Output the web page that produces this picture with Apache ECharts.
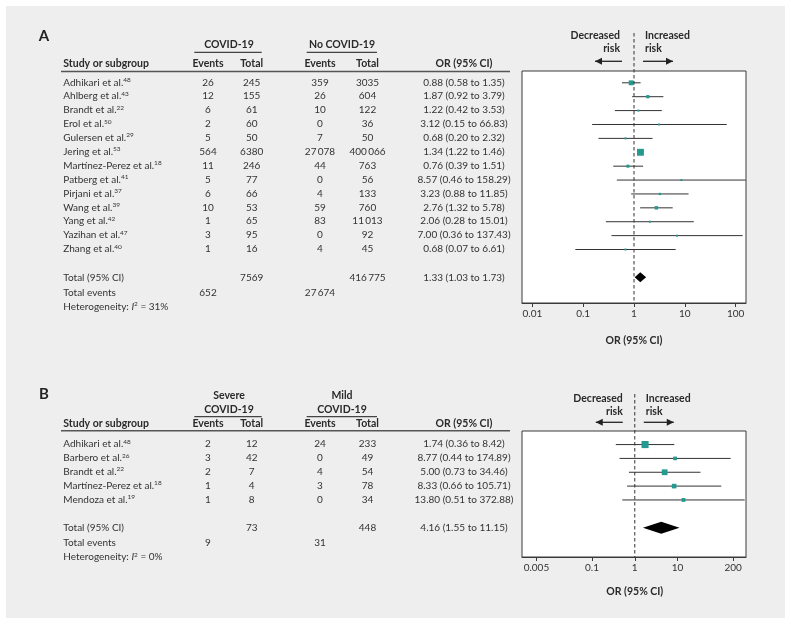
<!DOCTYPE html>
<html><head><meta charset="utf-8">
<script src="https://cdn.jsdelivr.net/npm/echarts@6/dist/echarts.min.js"></script>
<style>html,body{margin:0;padding:0;background:#fff}#c{width:791px;height:624px}</style>
</head><body><div id="c"></div>
<script>
// ---------- DATA: Panel A ----------
const studiesA = ['Adhikari et al.', 'Ahlberg et al.', 'Brandt et al.', 'Erol et al.', 'Gulersen et al.', 'Jering et al.', 'Martínez-Perez et al.', 'Patberg et al.', 'Pirjani et al.', 'Wang et al.', 'Yang et al.', 'Yazihan et al.', 'Zhang et al.'];
const refsA = ['48', '43', '22', '50', '29', '53', '18', '41', '37', '39', '42', '47', '40'];
const covEventsA = [26, 12, 6, 2, 5, 564, 11, 5, 6, 10, 1, 3, 1];
const covTotalA = [245, 155, 61, 60, 50, 6380, 246, 77, 66, 53, 65, 95, 16];
const noEventsA = [359, 26, 10, 0, 7, 27078, 44, 0, 4, 59, 83, 0, 4];
const noTotalA = [3035, 604, 122, 36, 50, 400066, 763, 56, 133, 760, 11013, 92, 45];
const orA = [0.88, 1.87, 1.22, 3.12, 0.68, 1.34, 0.76, 8.57, 3.23, 2.76, 2.06, 7.00, 0.68];
const loA = [0.58, 0.92, 0.42, 0.15, 0.20, 1.22, 0.39, 0.46, 0.88, 1.32, 0.28, 0.36, 0.07];
const hiA = [1.35, 3.79, 3.53, 66.83, 2.32, 1.46, 1.51, 158.29, 11.85, 5.78, 15.01, 137.43, 6.61];
const weightA = [18, 8, 3, 1, 2, 36, 7, 1, 4, 9, 2, 1, 2]; // estimated % weights (marker size)
const totalA = { covTotal: 7569, noTotal: 416775, or: 1.33, lo: 1.03, hi: 1.73, covEvents: 652, noEvents: 27674, i2: 31 };
const ticksA = [0.01, 0.1, 1, 10, 100];

// ---------- DATA: Panel B ----------
const studiesB = ['Adhikari et al.', 'Barbero et al.', 'Brandt et al.', 'Martínez-Perez et al.', 'Mendoza et al.'];
const refsB = ['48', '26', '22', '18', '19'];
const sevEventsB = [2, 3, 2, 1, 1];
const sevTotalB = [12, 42, 7, 4, 8];
const mildEventsB = [24, 0, 4, 3, 0];
const mildTotalB = [233, 49, 54, 78, 34];
const orB = [1.74, 8.77, 5.00, 8.33, 13.80];
const loB = [0.36, 0.44, 0.73, 0.66, 0.51];
const hiB = [8.42, 174.89, 34.46, 105.71, 372.88];
const weightB = [38, 10, 25, 16, 11];
const totalB = { covTotal: 73, noTotal: 448, or: 4.16, lo: 1.55, hi: 11.15, covEvents: 9, noEvents: 31, i2: 0 };
const ticksB = [0.005, 0.1, 1, 10, 200];

// ---------- STYLE ----------
const FONT = 'Lato';
const TXT = '#333';
const TEAL = '#23998f';
const FS = 10;
const FSB = 10.5;

const fmtNum = n => n >= 10000 ? String(n).replace(/\B(?=(\d{3})+(?!\d))/g, '\u2009') : String(n);
const fmtOR = (o, l, h) => `${o.toFixed(2)} (${l.toFixed(2)} to ${h.toFixed(2)})`;
const fmtTick = v => String(parseFloat(Number(v).toPrecision(6)));

function studyRows(or, lo, hi, w) {
  return or.map((v, i) => [v, lo[i], hi[i], i, w[i]]);
}

function renderStudy(params, api) {
  const y = api.value(3);
  const pc = api.coord([api.value(0), y]);
  const p0 = api.coord([api.value(1), y]);
  const p1 = api.coord([api.value(2), y]);
  const s = Math.max(2, 1.15 * Math.sqrt(api.value(4)));
  return {
    type: 'group',
    children: [
      { type: 'line', shape: { x1: p0[0], y1: p0[1], x2: p1[0], y2: p1[1] }, style: { stroke: '#333', lineWidth: 1 } },
      { type: 'rect', shape: { x: pc[0] - s / 2, y: pc[1] - s / 2, width: s, height: s }, style: { fill: TEAL } }
    ]
  };
}
function makeDiamond(half) {
  return function (params, api) {
    const y = api.value(3);
    const pc = api.coord([api.value(0), y]);
    const p0 = api.coord([api.value(1), y]);
    const p1 = api.coord([api.value(2), y]);
    return { type: 'polygon', shape: { points: [[p0[0], pc[1]], [pc[0], pc[1] - half], [p1[0], pc[1]], [pc[0], pc[1] + half]] }, style: { fill: '#000' } };
  };
}

function xAxisCfg(grid, min, max, ticks) {
  return {
    type: 'log', logBase: 10, gridIndex: grid, min: min, max: max,
    axisLine: { show: true, onZero: false, lineStyle: { color: '#3a3a3a', width: 1 } },
    axisTick: { show: true, length: 4, customValues: ticks, lineStyle: { color: '#3a3a3a' } },
    axisLabel: { customValues: ticks, margin: 6, fontSize: FS, fontFamily: FONT, color: TXT, formatter: fmtTick },
    splitLine: { show: false }, minorTick: { show: false }
  };
}

const chart = echarts.init(document.getElementById('c'), null, { renderer: 'canvas' });
chart.setOption({
  backgroundColor: '#fff',
  animation: false,
  grid: [
    { left: 522, width: 224, top: 71, height: 232, show: true, backgroundColor: '#fff', borderColor: '#3a3a3a', borderWidth: 1 },
    { left: 522, width: 224, top: 431, height: 126, show: true, backgroundColor: '#fff', borderColor: '#3a3a3a', borderWidth: 1 }
  ],
  xAxis: [xAxisCfg(0, 0.00625, 160, ticksA), xAxisCfg(1, 0.0023, 400, ticksB)],
  yAxis: [
    { type: 'value', gridIndex: 0, inverse: true, min: -0.85, max: 15.85, show: false },
    { type: 'value', gridIndex: 1, inverse: true, min: -0.98, max: 8.12, show: false }
  ],
  series: [
    { type: 'custom', xAxisIndex: 0, yAxisIndex: 0, renderItem: renderStudy, encode: { x: [0, 1, 2], y: 3 }, data: studyRows(orA, loA, hiA, weightA), z: 3 },
    { type: 'custom', xAxisIndex: 0, yAxisIndex: 0, renderItem: makeDiamond(5), encode: { x: [0, 1, 2], y: 3 }, data: [[totalA.or, totalA.lo, totalA.hi, studiesA.length + 1]], z: 3 },
    { type: 'custom', xAxisIndex: 1, yAxisIndex: 1, renderItem: renderStudy, encode: { x: [0, 1, 2], y: 3 }, data: studyRows(orB, loB, hiB, weightB), z: 3 },
    { type: 'custom', xAxisIndex: 1, yAxisIndex: 1, renderItem: makeDiamond(6), encode: { x: [0, 1, 2], y: 3 }, data: [[totalB.or, totalB.lo, totalB.hi, studiesB.length + 1]], z: 3 }
  ]
});

// ---------- TEXT / ANNOTATIONS ----------
const G = [];
G.push({ type: 'rect', z: -10, shape: { x: 6, y: 6, width: 779, height: 612 }, style: { fill: '#edeeed' }, silent: true });

function T(x, y, text, o) {
  o = o || {};
  G.push({ type: 'text', x: x, y: y, z: 50, style: Object.assign({ text: text, fontFamily: FONT, fontSize: FS, fill: TXT, align: o.align || 'left', verticalAlign: 'middle' }, o.style || {}) });
}
function Tb(x, y, text, align) { T(x, y, text, { align: align, style: { fontWeight: 'bold', fontSize: FSB, fill: '#2a2a2a' } }); }
function L(x1, y1, x2, y2, w, color, dash) {
  G.push({ type: 'line', z: 50, shape: { x1, y1, x2, y2 }, style: { stroke: color || '#444', lineWidth: w || 1, lineDash: dash || null } });
}
const RICH = {
  n: { fontFamily: FONT, fontSize: FS, fill: TXT, lineHeight: 12 },
  i: { fontFamily: FONT, fontSize: FS, fill: TXT, lineHeight: 12, fontStyle: 'italic' },
  s: { fontFamily: FONT, fontSize: 6.5, fill: TXT, lineHeight: 8, verticalAlign: 'top' }
};
function TR(x, y, text) {
  G.push({ type: 'text', x: x, y: y, z: 50, style: { text: text, rich: RICH, fontFamily: FONT, fontSize: FS, fill: TXT, align: 'left', verticalAlign: 'middle' } });
}
function arrow(xs, xe, y) {
  L(xs, y, xe, y, 1.3, '#222');
  const d = xe > xs ? 1 : -1;
  G.push({ type: 'polygon', z: 50, shape: { points: [[xe, y], [xe - d * 7, y - 3.5], [xe - d * 7, y + 3.5]] }, style: { fill: '#222' } });
}

const COL = { name: 63.3, ev1: 208, tot1: 251.7, ev2: 320, tot2: 367.5, or: 464 };

function panel(p) {
  const gi = p.grid;
  const x1 = chart.convertToPixel({ xAxisIndex: gi }, 1);
  const rowY = i => chart.convertToPixel({ yAxisIndex: gi }, i);
  T(44, p.letterY, p.letter, { align: 'center', style: { fontWeight: 'bold', fontSize: 15, fill: '#222' } });
  p.groupHead.forEach((lines, k) => {
    const cx = k === 0 ? 229 : 342;
    lines.forEach((s, j) => Tb(cx, p.groupY[j], s, 'center'));
  });
  L(194.3, p.ulY, 261.7, p.ulY, 1.2, '#444');
  L(306.7, p.ulY, 377, p.ulY, 1.2, '#444');
  Tb(COL.name, p.headY, 'Study or subgroup', 'left');
  Tb(COL.ev1, p.headY, 'Events', 'center');
  Tb(COL.tot1, p.headY, 'Total', 'center');
  Tb(COL.ev2, p.headY, 'Events', 'center');
  Tb(COL.tot2, p.headY, 'Total', 'center');
  Tb(COL.or, p.headY, 'OR (95% CI)', 'center');
  L(61, p.ruleY, 510, p.ruleY, 1.5, '#555');
  p.names.forEach((nm, i) => {
    const y = rowY(i) - 0.5;
    TR(COL.name, y, `{n|${nm}}{s|${p.refs[i]}}`);
    T(COL.ev1, y, fmtNum(p.ev1[i]), { align: 'center' });
    T(COL.tot1, y, fmtNum(p.tot1[i]), { align: 'center' });
    T(COL.ev2, y, fmtNum(p.ev2[i]), { align: 'center' });
    T(COL.tot2, y, fmtNum(p.tot2[i]), { align: 'center' });
    T(COL.or, y, fmtOR(p.or[i], p.lo[i], p.hi[i]), { align: 'center' });
  });
  const tot = p.total;
  const ty = rowY(p.names.length + 1);
  T(COL.name, ty, 'Total (95% CI)');
  T(COL.tot1, ty, fmtNum(tot.covTotal), { align: 'center' });
  T(COL.tot2, ty, fmtNum(tot.noTotal), { align: 'center' });
  T(COL.or, ty, fmtOR(tot.or, tot.lo, tot.hi), { align: 'center' });
  T(COL.name, ty + 15.5, 'Total events');
  T(COL.ev1, ty + 15.5, fmtNum(tot.covEvents), { align: 'center' });
  T(COL.ev2, ty + 15.5, fmtNum(tot.noEvents), { align: 'center' });
  TR(COL.name, ty + 29.5, `{n|Heterogeneity: }{i|I}{s|2}{n| = ${tot.i2}%}`);
  G.push({ type: 'text', x: x1 - p.decOff, y: p.riskY, z: 50, style: { text: 'Decreased\nrisk', fontFamily: FONT, fontSize: FSB, fontWeight: 'bold', fill: '#2a2a2a', align: 'right', verticalAlign: 'middle', lineHeight: 12.5 } });
  G.push({ type: 'text', x: x1 + 11, y: p.riskY, z: 50, style: { text: 'Increased\nrisk', fontFamily: FONT, fontSize: FSB, fontWeight: 'bold', fill: '#2a2a2a', align: 'left', verticalAlign: 'middle', lineHeight: 12.5 } });
  arrow(x1 - 12, x1 - 39, p.arrowY);
  arrow(x1 + 9, x1 + 39, p.arrowY);
  const gb = chart.convertToPixel({ yAxisIndex: gi }, p.yMax);
  L(x1, p.dashTop, x1, gb, 1, '#333', [3.5, 2.5]);
  Tb(x1, p.titleY, 'OR (95% CI)', 'center');
}

panel({
  grid: 0, letter: 'A', letterY: 36, names: studiesA, refs: refsA,
  ev1: covEventsA, tot1: covTotalA, ev2: noEventsA, tot2: noTotalA, or: orA, lo: loA, hi: hiA, total: totalA,
  groupHead: [['COVID-19'], ['No COVID-19']], groupY: [44.3], ulY: 52.3, headY: 63.7, ruleY: 71.5,
  riskY: 42, decOff: 14, arrowY: 61.3, dashTop: 33, yMax: 15.85, titleY: 341
});
panel({
  grid: 1, letter: 'B', letterY: 394, names: studiesB, refs: refsB,
  ev1: sevEventsB, tot1: sevTotalB, ev2: mildEventsB, tot2: mildTotalB, or: orB, lo: loB, hi: hiB, total: totalB,
  groupHead: [['Severe', 'COVID-19'], ['Mild', 'COVID-19']], groupY: [396, 409.3], ulY: 416.7, headY: 424, ruleY: 430.7,
  riskY: 405, decOff: 12, arrowY: 422.3, dashTop: 394, yMax: 8.12, titleY: 592
});

chart.setOption({ graphic: { elements: G } });
</script>
</body></html>
